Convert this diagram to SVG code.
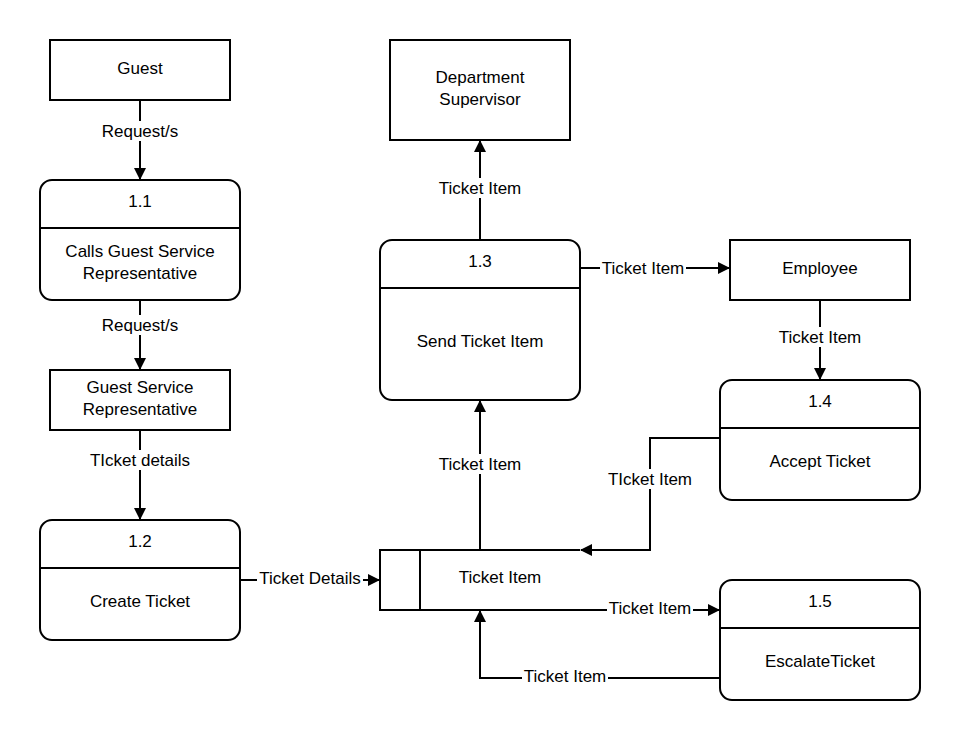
<svg xmlns="http://www.w3.org/2000/svg" width="960" height="740" viewBox="0 0 960 740">
<defs>
<marker id="ah" markerWidth="12" markerHeight="12" viewBox="0 0 12 12" refX="11" refY="6" orient="auto" markerUnits="userSpaceOnUse">
<path d="M0,0 L12,6 L0,12 Z" fill="#000"/>
</marker>
<style>
.box{fill:#fff;stroke:#000;stroke-width:2}
.ln{fill:none;stroke:#000;stroke-width:2}
.bg{fill:#fff;stroke:none}
.t{font-family:"Liberation Sans",Arial,sans-serif;font-size:17px;fill:#000;text-anchor:middle}
</style>
</defs>
<rect width="960" height="740" fill="#fff"/>
<g id="connectors">
<line class="ln" x1="140" y1="100" x2="140" y2="179" marker-end="url(#ah)"/>
<rect class="bg" x="98" y="121" width="84" height="20"/>
<text class="t" x="140" y="137">Request/s</text>
<line class="ln" x1="140" y1="300" x2="140" y2="369" marker-end="url(#ah)"/>
<rect class="bg" x="98" y="315" width="84" height="20"/>
<text class="t" x="140" y="331">Request/s</text>
<line class="ln" x1="140" y1="430" x2="140" y2="519" marker-end="url(#ah)"/>
<rect class="bg" x="86" y="450" width="108" height="20"/>
<text class="t" x="140" y="466">TIcket details</text>
<line class="ln" x1="240" y1="580" x2="379" y2="580" marker-end="url(#ah)"/>
<rect class="bg" x="257" y="570" width="106" height="20"/>
<text class="t" x="310" y="584">Ticket Details</text>
<line class="ln" x1="480" y1="550" x2="480" y2="401" marker-end="url(#ah)"/>
<rect class="bg" x="437" y="454" width="86" height="20"/>
<text class="t" x="480" y="470">Ticket Item</text>
<line class="ln" x1="480" y1="240" x2="480" y2="141" marker-end="url(#ah)"/>
<rect class="bg" x="437" y="178" width="86" height="20"/>
<text class="t" x="480" y="194">Ticket Item</text>
<line class="ln" x1="580" y1="268" x2="729" y2="268" marker-end="url(#ah)"/>
<rect class="bg" x="600" y="258" width="86" height="20"/>
<text class="t" x="643" y="274">Ticket Item</text>
<line class="ln" x1="820" y1="300" x2="820" y2="379" marker-end="url(#ah)"/>
<rect class="bg" x="777" y="327" width="86" height="20"/>
<text class="t" x="820" y="343">Ticket Item</text>
<polyline class="ln" points="720,438 650,438 650,550 581,550" marker-end="url(#ah)"/>
<rect class="bg" x="606" y="469" width="88" height="20"/>
<text class="t" x="650" y="485">TIcket Item</text>
<line class="ln" x1="578" y1="610" x2="719" y2="610" marker-end="url(#ah)"/>
<rect class="bg" x="607" y="600" width="86" height="20"/>
<text class="t" x="650" y="614">Ticket Item</text>
<polyline class="ln" points="720,678 480,678 480,611" marker-end="url(#ah)"/>
<rect class="bg" x="522" y="668" width="86" height="20"/>
<text class="t" x="565" y="682">Ticket Item</text>
</g>
<g id="guest">
<rect class="box" x="50" y="40" width="180" height="60"/>
<text class="t" x="140" y="74">Guest</text>
</g>
<g id="p1-1">
<rect class="box" x="40" y="180" width="200" height="120" rx="12"/>
<line class="ln" x1="40" y1="228" x2="240" y2="228"/>
<text class="t" x="140" y="207">1.1</text>
<text class="t" x="140" y="257">Calls Guest Service</text>
<text class="t" x="140" y="279">Representative</text>
</g>
<g id="gsr">
<rect class="box" x="50" y="370" width="180" height="60"/>
<text class="t" x="140" y="393">Guest Service</text>
<text class="t" x="140" y="415">Representative</text>
</g>
<g id="p1-2">
<rect class="box" x="40" y="520" width="200" height="120" rx="12"/>
<line class="ln" x1="40" y1="568" x2="240" y2="568"/>
<text class="t" x="140" y="547">1.2</text>
<text class="t" x="140" y="607">Create Ticket</text>
</g>
<g id="supervisor">
<rect class="box" x="390" y="40" width="180" height="100"/>
<text class="t" x="480" y="83">Department</text>
<text class="t" x="480" y="105">Supervisor</text>
</g>
<g id="p1-3">
<rect class="box" x="380" y="240" width="200" height="160" rx="12"/>
<line class="ln" x1="380" y1="288" x2="580" y2="288"/>
<text class="t" x="480" y="267">1.3</text>
<text class="t" x="480" y="347">Send Ticket Item</text>
</g>
<g id="employee">
<rect class="box" x="730" y="240" width="180" height="60"/>
<text class="t" x="820" y="274">Employee</text>
</g>
<g id="p1-4">
<rect class="box" x="720" y="380" width="200" height="120" rx="12"/>
<line class="ln" x1="720" y1="428" x2="920" y2="428"/>
<text class="t" x="820" y="407">1.4</text>
<text class="t" x="820" y="467">Accept Ticket</text>
</g>
<g id="p1-5">
<rect class="box" x="720" y="580" width="200" height="120" rx="12"/>
<line class="ln" x1="720" y1="628" x2="920" y2="628"/>
<text class="t" x="820" y="607">1.5</text>
<text class="t" x="820" y="667">EscalateTicket</text>
</g>
<g id="store">
<path class="ln" d="M580,550 L380,550 L380,610 L580,610"/>
<line class="ln" x1="420" y1="550" x2="420" y2="610"/>
<text class="t" x="500" y="583">Ticket Item</text>
</g>
</svg>
